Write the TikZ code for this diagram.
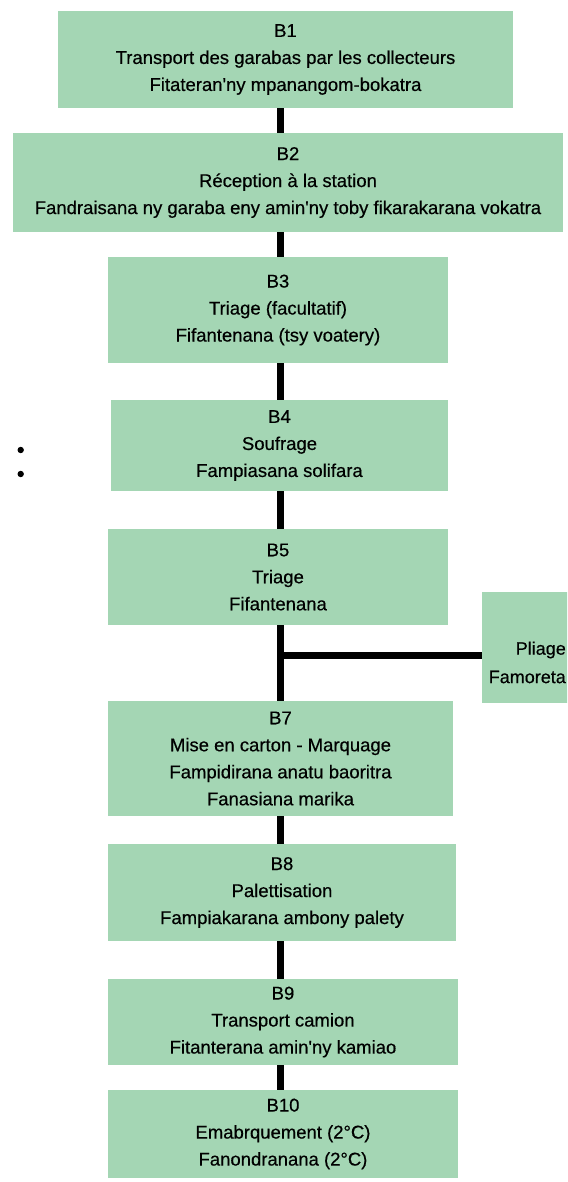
\documentclass[tikz,border=0pt]{standalone}
\usepackage{fontspec}
\setmainfont{Liberation Sans}
\newfontfamily\boxfont[FakeBold=0.45]{Liberation Sans}
\definecolor{boxgreen}{RGB}{164,214,180}
\newcommand{\apos}{\textquotesingle}
\begin{document}
\begin{tikzpicture}[x=1pt,y=-1pt,
  stepbox/.style={rectangle, fill=boxgreen, inner sep=0pt, align=center,
    font=\boxfont\fontsize{18.5}{27}\selectfont},
  conn/.style={line width=7pt, black},
  sidetext/.style={anchor=east, inner sep=0pt, font=\boxfont\fontsize{18}{27}\selectfont}]
\clip (0,0) rectangle (567,1182);
\fill[white] (0,0) rectangle (567,1182);
\coordinate (xc) at (280,0);
\node[stepbox, minimum width=455pt, minimum height=97pt] (B1) at (285.5,59.5)
  {B1\\Transport des garabas par les collecteurs\\Fitateran\apos ny mpanangom-bokatra};
\node[stepbox, minimum width=550pt, minimum height=99pt] (B2) at (288,182.5)
  {B2\\Réception à la station\\Fandraisana ny garaba eny amin\apos ny toby fikarakarana vokatra};
\node[stepbox, minimum width=340pt, minimum height=106pt] (B3) at (278,310)
  {B3\\Triage (facultatif)\\Fifantenana (tsy voatery)};
\node[stepbox, minimum width=337pt, minimum height=91pt] (B4) at (279.5,445.5)
  {B4\\Soufrage\\Fampiasana solifara};
\node[stepbox, minimum width=340pt, minimum height=96pt] (B5) at (278,577)
  {B5\\Triage\\Fifantenana};
\node[stepbox, minimum width=200pt, minimum height=111pt] (B6) at (582,647.5) {};
\node[sidetext] (B6a) at (566,650) {Pliage};
\node[sidetext] (B6b) at (566,677) {Famoreta};
\node[stepbox, minimum width=345pt, minimum height=115pt] (B7) at (280.5,758.5)
  {B7\\Mise en carton - Marquage\\Fampidirana anatu baoritra\\Fanasiana marika};
\node[stepbox, minimum width=348pt, minimum height=97pt] (B8) at (282,892.5)
  {B8\\Palettisation\\Fampiakarana ambony palety};
\node[stepbox, minimum width=350pt, minimum height=86pt] (B9) at (283,1022)
  {B9\\Transport camion\\Fitanterana amin\apos ny kamiao};
\node[stepbox, minimum width=350pt, minimum height=88pt] (B10) at (283,1134)
  {B10\\Emabrquement (2°C)\\Fanondranana (2°C)};
\coordinate (J) at (280,655);
\draw[conn] (B1.south -| xc) -- (B2.north -| xc);
\draw[conn] (B2.south -| xc) -- (B3.north -| xc);
\draw[conn] (B3.south -| xc) -- (B4.north -| xc);
\draw[conn] (B4.south -| xc) -- (B5.north -| xc);
\draw[conn] (B5.south -| xc) -- (B7.north -| xc);
\draw[conn] (J) -- (J -| B6.west);
\draw[conn] (B7.south -| xc) -- (B8.north -| xc);
\draw[conn] (B8.south -| xc) -- (B9.north -| xc);
\draw[conn] (B9.south -| xc) -- (B10.north -| xc);
\fill[black] (20.7,450) circle (3.2pt);
\fill[black] (20.7,474) circle (3.2pt);
\end{tikzpicture}
\end{document}
